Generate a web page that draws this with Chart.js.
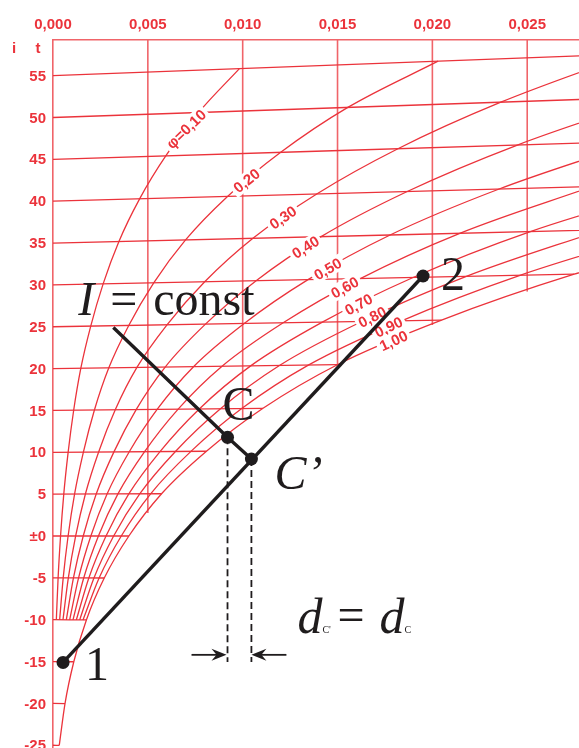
<!DOCTYPE html>
<html lang="de">
<head>
<meta charset="utf-8">
<title>h,x-Diagramm</title>
<script src="https://cdn.jsdelivr.net/npm/chart.js@4.4.0/dist/chart.umd.min.js"></script>
<style>
  html, body { margin: 0; padding: 0; background: #fff; }
  #chart { display: block; }
</style>
</head>
<body>
<canvas id="chart" width="579" height="748"></canvas>
<script>
// axis ticks
const xTicks = [0, 0.005, 0.010, 0.015, 0.020, 0.025];
const tTicks = [-25, -20, -15, -10, -5, 0, 5, 10, 15, 20, 25, 30, 35, 40, 45, 50, 55];

// water content x (kg/kg) of the phi curves, one value per isotherm from -10 upward
const phiTemps = [-10, -5, 0, 5, 10, 15, 20, 25, 30, 35, 40, 45, 50, 55];
const phi10 = [0.000176, 0.000269, 0.000398, 0.000568, 0.000799, 0.001090, 0.001468, 0.001990, 0.002643, 0.003475, 0.004566, 0.005945, 0.007675, 0.009828];
const phi20 = [0.000351, 0.000538, 0.000796, 0.001137, 0.001602, 0.002184, 0.002943, 0.003993, 0.005310, 0.006988, 0.009200, 0.012005, 0.015542, 0.020300];
const phi30 = [0.000527, 0.000808, 0.001195, 0.001708, 0.002406, 0.003282, 0.004424, 0.006009, 0.007998, 0.010541, 0.013903, 0.018183, 0.023608, 0.030443];
const phi40 = [0.000703, 0.001078, 0.001594, 0.002278, 0.003212, 0.004384, 0.005913, 0.008038, 0.010709, 0.014136, 0.018675, 0.024482, 0.031878];
const phi50 = [0.000879, 0.001348, 0.001995, 0.002850, 0.004020, 0.005489, 0.007408, 0.010079, 0.013444, 0.017771, 0.023521, 0.030910];
const phi60 = [0.001055, 0.001619, 0.002395, 0.003423, 0.004829, 0.006598, 0.008911, 0.012133, 0.016202, 0.021445, 0.028438];
const phi70 = [0.001231, 0.001889, 0.002795, 0.003997, 0.005641, 0.007711, 0.010420, 0.014199, 0.018983, 0.025166, 0.033440];
const phi80 = [0.001407, 0.002159, 0.003197, 0.004572, 0.006455, 0.008828, 0.011937, 0.016281, 0.021792, 0.028928];
const phi90 = [0.001582, 0.002431, 0.003599, 0.005147, 0.007271, 0.009948, 0.013460, 0.018376, 0.024619, 0.032700];
// saturation curve (phi = 1,00)
const satTemps = [-25, -20, -15, -10, -5, 0, 5, 10, 15, 20, 25, 30, 35];
const satX = [0.000330, 0.000633, 0.001096, 0.001760, 0.002702, 0.004000, 0.005724, 0.008089, 0.011071, 0.014991, 0.020483, 0.027476, 0.036600];

const phiNames = ['\u03c6=0,10', '0,20', '0,30', '0,40', '0,50', '0,60', '0,70', '0,80', '0,90', '1,00'];
const phiLabelT = [48.1, 41.8, 37.35, 33.8, 31.2, 29.0, 27.0, 25.5, 24.3, 22.7];
// where the vertical x lines stop on the saturation curve
const xLineEnd = [2.75, 14.1, 20.4, 25.2, 29.2];

// states drawn on top
const stateNames = ['1', '2', 'C', 'C\u2019'];
const stateX = [0.00053, 0.01951, 0.00920, 0.01046];
const stateY = [-15.1, 31.06, 11.79, 9.2];
const iConstStart = { x: 0.00318, y: 24.9 };
const dashBottom = -15.06;
const arrowY = -14.2;

const X_MAX = 0.02773, Y_MIN = -25.33, Y_MAX = 59.26;
const SKEW = 1.55;   // isotherms rise slightly to the right
const RED = '#eb333b', RED_LIGHT = '#f06469', INK = '#1f1c1d';
const SANS = '"Liberation Sans", Arial, sans-serif';

function plot(x, t) {
    return { x: x, y: t * (1 + SKEW * x) };
}

function redLine(points, color, width) {
    return {
        data: points, showLine: true, pointRadius: 0,
        borderColor: color || RED, borderWidth: width || 1.3,
        tension: 0.4, cubicInterpolationMode: 'monotone', fill: false
    };
}

var phiSeries = [phi10, phi20, phi30, phi40, phi50, phi60, phi70, phi80, phi90];

var datasets = [];
// black datasets first (drawn last)
datasets.push({
    data: stateX.map((x, i) => ({ x: x, y: stateY[i] })),
    showLine: false, pointRadius: 6.5, pointBackgroundColor: INK, pointBorderWidth: 0
});
datasets.push({
    data: [{ x: stateX[0], y: stateY[0] }, { x: stateX[1], y: stateY[1] }],
    showLine: true, pointRadius: 0, borderColor: INK, borderWidth: 3.4
});
datasets.push({
    data: [iConstStart, { x: stateX[2], y: stateY[2] }, { x: stateX[3], y: stateY[3] }],
    showLine: true, pointRadius: 0, borderColor: INK, borderWidth: 3.4
});
datasets.push({
    data: [{ x: stateX[2], y: stateY[2] }, { x: stateX[2], y: dashBottom }],
    showLine: true, pointRadius: 0, borderColor: INK, borderWidth: 1.8, borderDash: [7, 4]
});
datasets.push({
    data: [{ x: stateX[3], y: stateY[3] }, { x: stateX[3], y: dashBottom }],
    showLine: true, pointRadius: 0, borderColor: INK, borderWidth: 1.8, borderDash: [7, 4]
});
var BLACK_COUNT = datasets.length;

// phi curves
phiSeries.forEach(function (arr) {
    datasets.push(redLine(arr.map((x, i) => plot(x, phiTemps[i]))));
});
datasets.push(redLine(satX.map((x, i) => plot(x, satTemps[i]))));

// isotherms, from x = 0 to the saturation curve
tTicks.forEach(function (t) {
    var k = satTemps.indexOf(t);
    var xe = k >= 0 ? satX[k] : X_MAX;
    datasets.push(redLine([plot(0, t), plot(xe, t)]));
});

// vertical lines of constant x
xTicks.slice(1).forEach(function (x, i) {
    datasets.push(redLine([{ x: x, y: Y_MAX }, { x: x, y: xLineEnd[i] }], RED_LIGHT, 1.6));
});

function interpX(arr, temps, t) {
    for (var i = 0; i < temps.length - 1; i++) {
        if (t >= temps[i] && t <= temps[i + 1]) {
            var f = (t - temps[i]) / (temps[i + 1] - temps[i]);
            return arr[i] + f * (arr[i + 1] - arr[i]);
        }
    }
    return arr[arr.length - 1];
}

const labelAngles = [44, 39, 35, 32, 30, 29, 28, 27, 26, 25];

function drawPhiLabels(chart) {
    var ctx = chart.ctx, xs = chart.scales.x, ys = chart.scales.y;
    ctx.save();
    ctx.font = 'bold 15px ' + SANS;
    ctx.textAlign = 'center';
    ctx.textBaseline = 'middle';
    phiNames.forEach(function (name, i) {
        var arr = i < 9 ? phiSeries[i] : satX;
        var temps = i < 9 ? phiTemps : satTemps;
        var x = interpX(arr, temps, phiLabelT[i]);
        var p = plot(x, phiLabelT[i]);
        var px = xs.getPixelForValue(p.x), py = ys.getPixelForValue(p.y);
        var w = ctx.measureText(name).width;
        ctx.save();
        ctx.translate(px, py);
        ctx.rotate(-labelAngles[i] * Math.PI / 180);
        ctx.fillStyle = '#fff';
        ctx.fillRect(-w / 2 - 3, -8, w + 6, 16);
        ctx.fillStyle = RED;
        ctx.fillText(name, 0, 1);
        ctx.restore();
    });
    ctx.restore();
}

function drawTickLabels(chart) {
    var ctx = chart.ctx, xs = chart.scales.x, ys = chart.scales.y;
    ctx.save();
    ctx.fillStyle = RED;
    ctx.font = 'bold 15px ' + SANS;
    ctx.textBaseline = 'middle';
    ctx.textAlign = 'center';
    xTicks.forEach(function (v) {
        ctx.fillText(v.toFixed(3).replace('.', ','), xs.getPixelForValue(v), 24.5);
    });
    ctx.fillText('i', 14, 49);
    ctx.fillText('t', 38, 49);
    ctx.textAlign = 'right';
    tTicks.forEach(function (v) {
        ctx.fillText(v === 0 ? '\u00b10' : String(v), 46, ys.getPixelForValue(v) + 1);
    });
    ctx.restore();
}

function arrow(ctx, from, to, y) {
    var dir = to > from ? 1 : -1;
    ctx.beginPath();
    ctx.moveTo(from, y);
    ctx.lineTo(to - 8 * dir, y);
    ctx.lineWidth = 1.8;
    ctx.strokeStyle = INK;
    ctx.stroke();
    ctx.beginPath();
    ctx.moveTo(to, y);
    ctx.lineTo(to - 15 * dir, y - 6);
    ctx.lineTo(to - 10 * dir, y);
    ctx.lineTo(to - 15 * dir, y + 6);
    ctx.closePath();
    ctx.fillStyle = INK;
    ctx.fill();
}

function drawAnnotations(chart) {
    var ctx = chart.ctx, xs = chart.scales.x, ys = chart.scales.y;
    var P = stateX.map((x, i) => ({ x: xs.getPixelForValue(x), y: ys.getPixelForValue(stateY[i]) }));
    var serif = '"Liberation Serif", "Times New Roman", serif';
    ctx.save();
    ctx.fillStyle = INK;
    ctx.textBaseline = 'alphabetic';
    ctx.textAlign = 'left';
    ctx.font = '48px ' + serif;
    ctx.fillText(stateNames[0], P[0].x + 22, P[0].y + 18);
    ctx.fillText(stateNames[1], P[1].x + 18, P[1].y + 14);
    ctx.fillText(stateNames[2], P[2].x - 5, P[2].y - 17);
    ctx.font = 'italic 48px ' + serif;
    ctx.fillText(stateNames[3], P[3].x + 23, P[3].y + 30);

    // I = const
    var s = { x: xs.getPixelForValue(iConstStart.x), y: ys.getPixelForValue(iConstStart.y) };
    ctx.font = 'italic 48px ' + serif;
    ctx.fillText('I', s.x - 35, s.y - 13);
    ctx.font = '48px ' + serif;
    ctx.fillText('=', s.x - 3, s.y - 13);
    ctx.fillText('const', s.x + 40, s.y - 13);

    // arrows and d_C' = d_C
    var ay = ys.getPixelForValue(arrowY);
    arrow(ctx, P[2].x - 36, P[2].x - 1, ay);
    arrow(ctx, P[3].x + 35, P[3].x, ay);
    var bx = P[3].x + 46, by = ay - 22;
    ctx.font = 'italic 50px ' + serif;
    ctx.fillText('d', bx, by);
    ctx.font = '10px ' + serif;
    ctx.fillText('C\'', bx + 25, by);
    ctx.font = '48px ' + serif;
    ctx.fillText('=', bx + 40, by - 2);
    ctx.font = 'italic 50px ' + serif;
    ctx.fillText('d', bx + 82, by);
    ctx.font = '10px ' + serif;
    ctx.fillText('C', bx + 107, by);
    ctx.restore();
}

const diagramText = {
    id: 'diagramText',
    beforeDatasetDraw(chart, args) {
        if (args.index === BLACK_COUNT - 1) drawPhiLabels(chart);
    },
    afterDatasetsDraw(chart) {
        drawAnnotations(chart);
    },
    afterDraw(chart) {
        drawTickLabels(chart);
    }
};

var ctx = document.getElementById('chart').getContext('2d');
var myChart = new Chart(ctx, {
    type: 'scatter',
    data: { datasets: datasets },
    options: {
        responsive: false,
        animation: false,
        events: [],
        layout: { padding: 0, autoPadding: false },
        plugins: { legend: { display: false }, tooltip: { enabled: false } },
        scales: {
            x: {
                type: 'linear', position: 'top', min: 0, max: X_MAX,
                afterFit: function (scale) { scale.height = 40; },
                ticks: { display: false, stepSize: 0.005 },
                grid: { drawOnChartArea: false, drawTicks: false },
                border: { display: true, color: RED_LIGHT, width: 1.6 }
            },
            y: {
                type: 'linear', min: Y_MIN, max: Y_MAX,
                afterFit: function (scale) { scale.width = 53; },
                ticks: { display: false, stepSize: 5 },
                grid: { drawOnChartArea: false, drawTicks: false },
                border: { display: true, color: RED_LIGHT, width: 1.6 }
            }
        }
    },
    plugins: [diagramText]
});
</script>
</body>
</html>
